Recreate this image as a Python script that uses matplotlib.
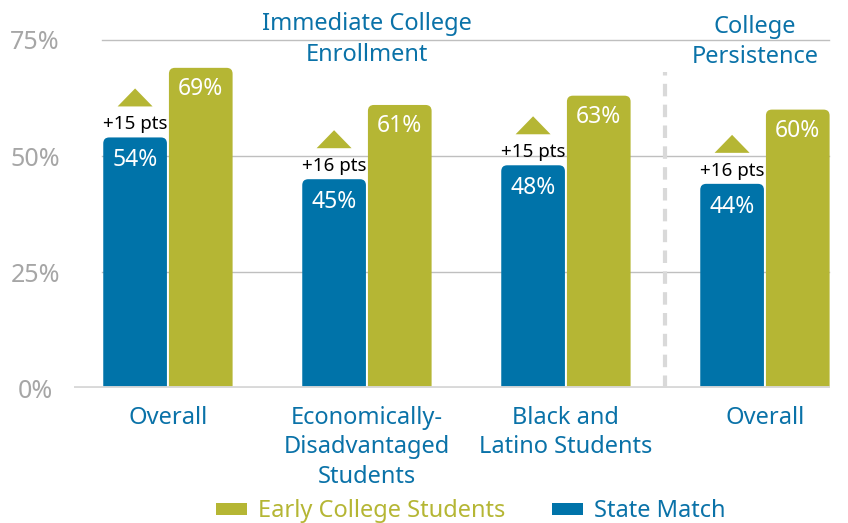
import matplotlib
matplotlib.use("Agg")
import matplotlib.pyplot as plt
from matplotlib.patches import FancyBboxPatch, Polygon, Patch

plt.rcParams['font.family'] = ['Noto Sans', 'DejaVu Sans']

# data
categories = ["Overall", "Economically-\nDisadvantaged\nStudents", "Black and\nLatino Students", "Overall"]
state_match = [54, 45, 48, 44]
early_college = [69, 61, 63, 60]
gain_labels = ["+15 pts", "+16 pts", "+15 pts", "+16 pts"]
section_titles = ["Immediate College\nEnrollment", "College\nPersistence"]
yticks = [0, 25, 50, 75]

BLUE = "#0073a9"
GREEN = "#b5b634"
TXT_BLUE = "#0a72a8"
GRID = "#bfbfbf"

fig = plt.figure(figsize=(8.48, 5.23), dpi=100)
ax = fig.add_axes([74 / 848, (523 - 388) / 523, (830 - 74) / 848, (388 - 40) / 523])
ax.set_xlim(-0.472, 3.327)
ax.set_ylim(0, 75)

w = 0.32
off = 0.165
x = list(range(len(categories)))

# grid lines (behind bars)
for yv in yticks[1:]:
    ax.plot([-0.33, 3.32], [yv, yv], color=GRID, lw=1, zorder=0, clip_on=False)
ax.axhline(0, color="#d9d9d9", lw=3.5, zorder=3)

# dashed separator
ax.plot([2.5, 2.5], [0, 68], color="#d9d9d9", lw=3, ls=(0, (3, 2)), zorder=1, clip_on=False)

# px to data conversions
xpx = 1 / 199.0
ypx = 75 / 348.0


def rounded_bars(xs, vals, color):
    bars = ax.bar(xs, vals, width=w, color=color, zorder=2, linewidth=0)
    for b in bars:
        b.set_visible(False)
        bx = b.get_x()
        bw, bh = b.get_width(), b.get_height()
        r = 6 * xpx
        # start below zero so the bottom corners get clipped away
        p = FancyBboxPatch((bx, -3), bw, bh + 3,
                           boxstyle=f"round,pad=0,rounding_size={r}",
                           mutation_aspect=ypx / xpx,
                           facecolor=color, edgecolor="none", zorder=2)
        ax.add_patch(p)
    return bars


rounded_bars([i - off for i in x], state_match, BLUE)
rounded_bars([i + off for i in x], early_college, GREEN)

# value labels
for i in x:
    ax.text(i - off, state_match[i] - 23 * ypx, f"{state_match[i]}%", ha="center", va="center",
            color="white", fontsize=16.5, zorder=4)
    ax.text(i + off, early_college[i] - 21 * ypx, f"{early_college[i]}%", ha="center", va="center",
            color="white", fontsize=16.5, zorder=4)
    # gain annotation
    top = state_match[i]
    ax.text(i - off, top + 13 * ypx, gain_labels[i], ha="center", va="center",
            color="black", fontsize=13.5, zorder=4)
    tw = 17.5 * xpx
    ax.add_patch(Polygon([[i - off - tw, top + 31 * ypx], [i - off + tw, top + 31 * ypx],
                          [i - off, top + 49 * ypx]], closed=True, facecolor=GREEN,
                         edgecolor="none", zorder=4))

# section titles
ax.text(1, 75 + 0.5 * ypx, section_titles[0], ha="center", va="center", color=TXT_BLUE,
        fontsize=17, linespacing=1.36, clip_on=False)
ax.text(2.95, 75 - 2 * ypx, section_titles[1], ha="center", va="center", color=TXT_BLUE,
        fontsize=17, linespacing=1.33, clip_on=False)

# axes styling
for s in ax.spines.values():
    s.set_visible(False)
ax.set_xticks(x)
ax.set_xticklabels(categories, color=TXT_BLUE, fontsize=17, linespacing=1.3, va="top")
ax.tick_params(axis="x", length=0, pad=13)
ax.set_yticks(yticks)
ax.set_yticklabels([f"{v}%" for v in yticks], color="#a6a6a6", fontsize=18)
for lbl in ax.get_yticklabels():
    lbl.set_horizontalalignment("center")
ax.tick_params(axis="y", length=0, pad=28)

# legend
handles = [Patch(facecolor=GREEN, label="Early College Students"),
           Patch(facecolor=BLUE, label="State Match")]
leg = fig.legend(handles=handles, loc="center", bbox_to_anchor=(0.555, 0.022), ncol=2,
                 frameon=False, fontsize=17, handlelength=1.3, handleheight=0.42,
                 columnspacing=2.0, handletextpad=0.45)
leg.get_texts()[0].set_color(GREEN)
leg.get_texts()[1].set_color(TXT_BLUE)

fig.savefig("out.png", dpi=100)
